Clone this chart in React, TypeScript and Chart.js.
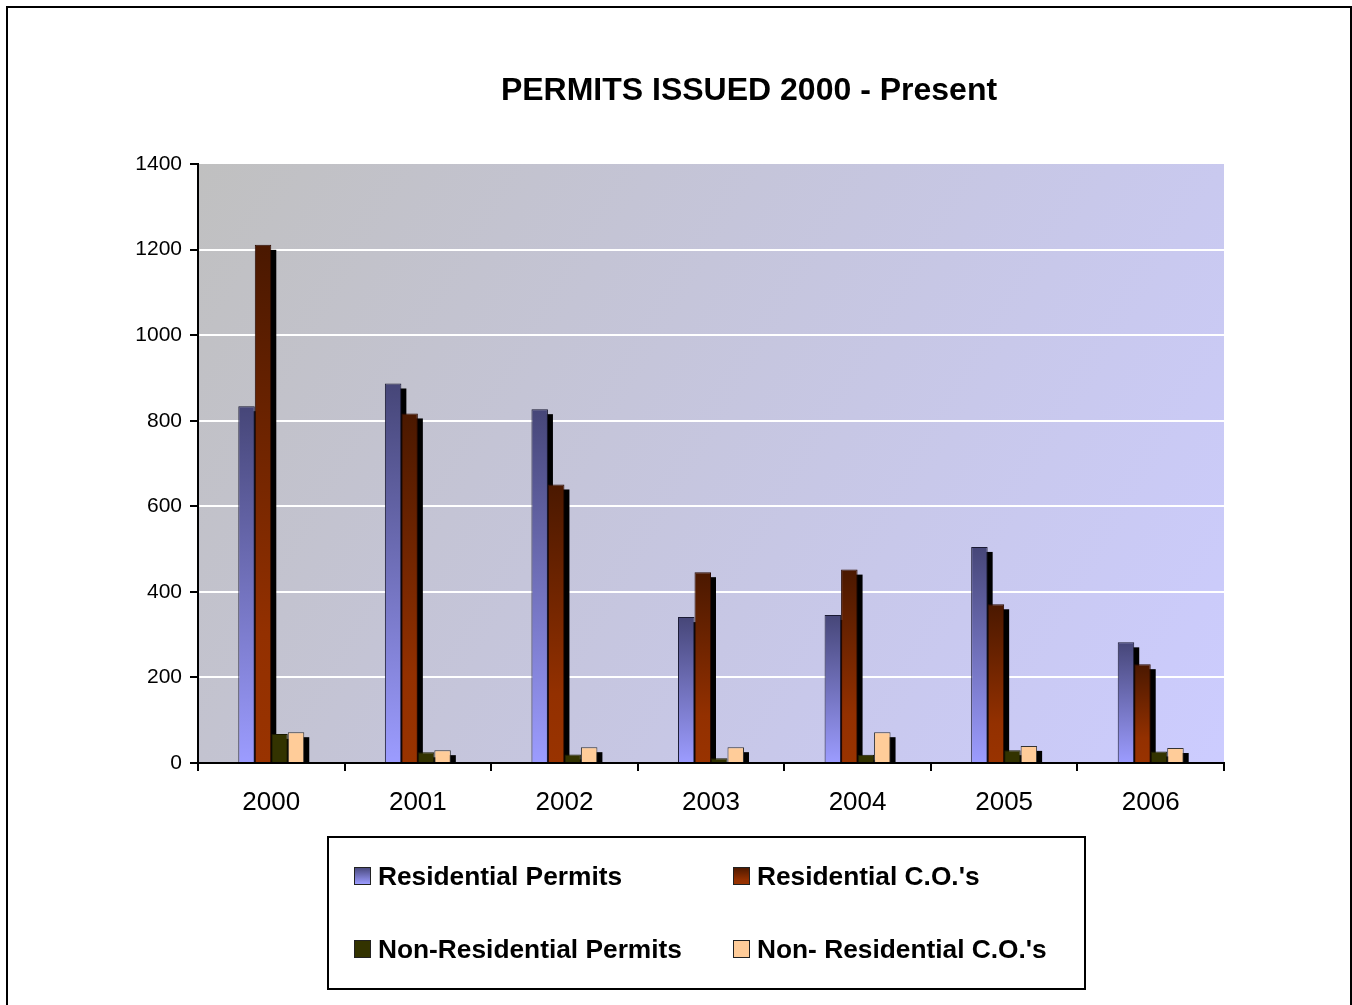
import React, { useEffect, useRef } from "react";
import { Chart, registerables } from "chart.js";

Chart.register(...registerables);

const categories = ["2000", "2001", "2002", "2003", "2004", "2005", "2006"];
const residentialPermits = [834, 887, 827, 341, 346, 505, 282];
const residentialCOs = [1211, 817, 651, 446, 452, 371, 231];
const nonResidentialPermits = [68, 25, 20, 11, 19, 30, 27];
const nonResidentialCOs = [72, 30, 37, 37, 72, 40, 35];
const seriesLabels = [
  "Residential Permits",
  "Residential C.O.'s",
  "Non-Residential Permits",
  "Non- Residential C.O.'s",
];
const yTicks = [0, 200, 400, 600, 800, 1000, 1200, 1400];
const titleText = "PERMITS ISSUED 2000 - Present";

const W = 1352;
const H = 1005;
const FONT = "'Liberation Sans', Arial, sans-serif";

type Stops = [number, string][];
const stopsRP: Stops = [
  [0, "#464678"],
  [1, "#9c9cff"],
];
const stopsRCO: Stops = [
  [0, "#4a1800"],
  [0.75, "#933000"],
  [1, "#993300"],
];

function grad(ctx: CanvasRenderingContext2D, top: number, bottom: number, stops: Stops) {
  const g = ctx.createLinearGradient(0, top, 0, bottom);
  stops.forEach(([o, c]) => g.addColorStop(o, c));
  return g;
}

function barFill(stops: Stops) {
  return (context: any) => {
    const chart = context.chart;
    const y = chart.scales && chart.scales.y;
    if (context.type !== "data" || !y) return stops[stops.length - 1][1];
    const v = context.raw as number;
    const top = y.getPixelForValue(v);
    const base = y.getPixelForValue(0);
    if (!isFinite(top) || !isFinite(base) || base - top < 1) return stops[stops.length - 1][1];
    return grad(chart.ctx, top, base, stops);
  };
}

const decorPlugin = {
  id: "decor",
  beforeDraw(chart: any) {
    const ctx = chart.ctx as CanvasRenderingContext2D;
    const a = chart.chartArea;
    ctx.save();
    ctx.fillStyle = "#ffffff";
    ctx.fillRect(0, 0, W, H);
    // outer frame
    ctx.strokeStyle = "#000";
    ctx.lineWidth = 2;
    ctx.strokeRect(7, 7, 1344, 1010);
    // plot area gradient
    const g = ctx.createLinearGradient(a.left, a.top, a.right, a.bottom);
    g.addColorStop(0, "#c0c0c0");
    g.addColorStop(1, "#ccccff");
    ctx.fillStyle = g;
    ctx.fillRect(a.left, a.top, a.right - a.left, a.bottom - a.top);
    // title
    ctx.fillStyle = "#000";
    ctx.font = `bold 32px ${FONT}`;
    ctx.textAlign = "center";
    ctx.textBaseline = "alphabetic";
    ctx.fillText(titleText, 749, 99.5);
    ctx.restore();
  },
  beforeDatasetsDraw(chart: any) {
    // shadows behind bars
    const ctx = chart.ctx as CanvasRenderingContext2D;
    ctx.save();
    ctx.fillStyle = "#000";
    chart.data.datasets.forEach((_: any, i: number) => {
      const meta = chart.getDatasetMeta(i);
      meta.data.forEach((bar: any) => {
        const p = bar.getProps(["x", "y", "base", "width"], true);
        const left = p.x - p.width / 2 + 5;
        const top = p.y + 5;
        const h = p.base - top;
        if (h > 0) ctx.fillRect(left, top, p.width, h);
      });
    });
    ctx.restore();
  },
  afterDraw(chart: any) {
    const ctx = chart.ctx as CanvasRenderingContext2D;
    ctx.save();
    // legend box
    ctx.strokeStyle = "#000";
    ctx.lineWidth = 2;
    ctx.strokeRect(328, 837, 757, 152);
    const cols = [354, 733];
    const rows = [867, 940];
    const fills = [
      (t: number, b: number) => grad(ctx, t, b, stopsRP),
      (t: number, b: number) => grad(ctx, t, b, stopsRCO),
      () => "#333300",
      () => "#ffcc99",
    ];
    chart.data.datasets.forEach((ds: any, i: number) => {
      const x = cols[i % 2];
      const y = rows[Math.floor(i / 2)];
      ctx.fillStyle = fills[i](y, y + 17) as any;
      ctx.fillRect(x, y, 16, 17);
      ctx.strokeStyle = "#222";
      ctx.lineWidth = 1;
      ctx.strokeRect(x + 0.5, y + 0.5, 16, 17);
      ctx.fillStyle = "#000";
      ctx.font = `bold 26.3px ${FONT}`;
      ctx.textAlign = "left";
      ctx.textBaseline = "alphabetic";
      ctx.fillText(ds.label, x + 24, y + 17.5);
    });
    ctx.restore();
  },
};

export default function App() {
  const ref = useRef<HTMLCanvasElement | null>(null);

  useEffect(() => {
    if (!ref.current) return;
    const chart = new Chart(ref.current, {
      type: "bar",
      data: {
        labels: categories,
        datasets: [
          {
            label: seriesLabels[0],
            data: residentialPermits,
            backgroundColor: barFill(stopsRP),
            borderColor: "#1a1a33",
            borderWidth: 1,
          },
          {
            label: seriesLabels[1],
            data: residentialCOs,
            backgroundColor: barFill(stopsRCO),
            borderColor: "#2a0a00",
            borderWidth: 1,
          },
          {
            label: seriesLabels[2],
            data: nonResidentialPermits,
            backgroundColor: "#333300",
            borderColor: "#1a1a00",
            borderWidth: 1,
          },
          {
            label: seriesLabels[3],
            data: nonResidentialCOs,
            backgroundColor: "#ffcc99",
            borderColor: "#333",
            borderWidth: 1,
          },
        ],
      },
      options: {
        responsive: false,
        animation: false,
        devicePixelRatio: 1,
        layout: { padding: { left: 0, right: 128, top: 164, bottom: 0 } },
        plugins: {
          legend: { display: false },
          title: { display: false },
          tooltip: { enabled: false },
        },
        datasets: {
          bar: { categoryPercentage: 0.45, barPercentage: 1 },
        },
        scales: {
          x: {
            offset: true,
            grid: {
              display: true,
              drawOnChartArea: false,
              tickColor: "#000",
              tickLength: 8,
              lineWidth: 2,
              offset: true,
            },
            border: { color: "#000", width: 2 },
            ticks: {
              color: "#000",
              font: { family: FONT, size: 26 },
              padding: 16,
              maxRotation: 0,
            },
            afterFit: (s: any) => {
              s.height = H - 763;
            },
          },
          y: {
            min: 0,
            max: 1400,
            afterBuildTicks: (s: any) => {
              s.ticks = yTicks.map((v) => ({ value: v }));
            },
            grid: {
              color: (c: any) => (c.tick && (c.tick.value === 1400 || c.tick.value === 0) ? "rgba(0,0,0,0)" : "#ffffff"),
              tickColor: "#000",
              tickLength: 8,
              lineWidth: 2,
            },
            border: { color: "#000", width: 2 },
            ticks: {
              color: "#000",
              font: { family: FONT, size: 21 },
              padding: 8,
              callback: (v: any) => String(v),
            },
            afterFit: (s: any) => {
              s.width = 198;
            },
          },
        },
      },
      plugins: [decorPlugin],
    });
    return () => chart.destroy();
  }, []);

  return (
    <div style={{ position: "absolute", left: 0, top: 0, width: W, height: H, overflow: "hidden" }}>
      <canvas ref={ref} width={W} height={H} style={{ display: "block", width: W, height: H }} />
    </div>
  );
}
